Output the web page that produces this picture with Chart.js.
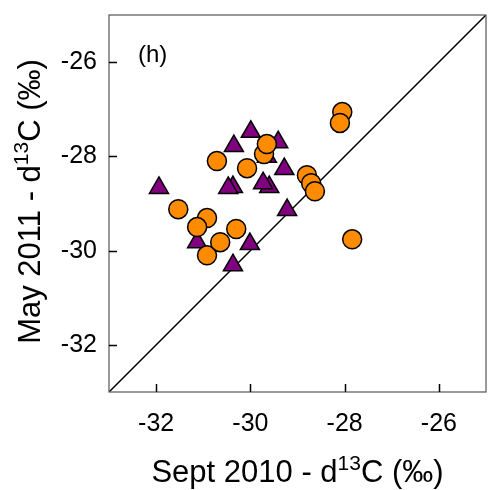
<!DOCTYPE html>
<html>
<head>
<meta charset="utf-8">
<script src="https://cdn.jsdelivr.net/npm/chart.js@4"></script>
<style>
  html, body { margin: 0; padding: 0; background: #fff; overflow: hidden; }
  canvas { display: block; }
</style>
</head>
<body>
<canvas id="chart" width="489" height="490"></canvas>
<script>
// d13C pairs: September 2010 (x) vs May 2011 (y)
const septCircle = [-30.71, -30.07, -29.71, -29.65, -28.05, -28.10, -28.80, -28.71, -28.63, -27.84, -31.53, -30.92, -31.13, -30.30, -30.92, -30.64];
const mayCircle  = [-28.10, -28.25, -27.95, -27.74, -27.06, -27.29, -28.40, -28.57, -28.74, -29.76, -29.12, -29.31, -29.50, -29.54, -30.10, -29.82];

const septTriangle = [-31.94, -30.35, -30.37, -30.47, -29.99, -29.41, -29.65, -29.28, -29.60, -29.73, -31.13, -30.01, -30.37, -29.22];
const mayTriangle  = [-28.67, -27.78, -28.65, -28.67, -27.48, -27.70, -28.01, -28.27, -28.65, -28.57, -29.82, -29.86, -30.31, -29.14];

const axisMin = -33;
const axisMax = -25;
const tickValues = [-32, -30, -28, -26];
const panelLabel = '(h)';

const FONT = '"Liberation Sans", Arial, sans-serif';

const pairs = (xs, ys) => xs.map((x, i) => ({ x: x, y: ys[i] }));

// frame, inward ticks, panel letter and axis titles with superscripts
const decor = {
  id: 'decor',
  afterDraw(chart) {
    const { ctx, chartArea: a, scales } = chart;
    ctx.save();
    ctx.strokeStyle = '#555';
    ctx.lineWidth = 1.2;
    ctx.strokeRect(a.left, a.top, a.right - a.left, a.bottom - a.top);

    ctx.strokeStyle = '#000';
    ctx.lineWidth = 1.5;
    ctx.beginPath();
    tickValues.forEach(v => {
      const px = Math.round(scales.x.getPixelForValue(v)) + 0.5;
      ctx.moveTo(px, a.bottom);
      ctx.lineTo(px, a.bottom - 8);
      const py = Math.round(scales.y.getPixelForValue(v)) + 0.5;
      ctx.moveTo(a.left, py);
      ctx.lineTo(a.left + 8, py);
    });
    ctx.stroke();

    ctx.fillStyle = '#000';
    ctx.font = '24px ' + FONT;
    ctx.textBaseline = 'alphabetic';
    ctx.textAlign = 'left';
    ctx.fillText(panelLabel, a.left + 29, a.top + 47);

    drawTitle(ctx, 'Sept 2010 - d', '13', 'C (\u2030)', (a.left + a.right) / 2, 482, 0);
    drawTitle(ctx, 'May 2011 - d', '13', 'C (\u2030)', 40, (a.top + a.bottom) / 2 - 2, -Math.PI / 2);
    ctx.restore();
  }
};

function drawTitle(ctx, pre, sup, post, cx, cy, rot) {
  const big = '31px ' + FONT;
  const small = '21px ' + FONT;
  ctx.save();
  ctx.translate(cx, cy);
  ctx.rotate(rot);
  ctx.textAlign = 'left';
  ctx.textBaseline = 'alphabetic';
  ctx.font = big;
  const w1 = ctx.measureText(pre).width;
  const w3 = ctx.measureText(post).width;
  ctx.font = small;
  const w2 = ctx.measureText(sup).width;
  let x = -(w1 + w2 + w3) / 2;
  ctx.font = big;
  ctx.fillText(pre, x, 0);
  x += w1;
  ctx.font = small;
  ctx.fillText(sup, x, -12);
  x += w2;
  ctx.font = big;
  ctx.fillText(post, x, 0);
  ctx.restore();
}

const axisCommon = {
  type: 'linear',
  min: axisMin,
  max: axisMax,
  grid: { display: false, drawTicks: false },
  border: { display: false },
  afterBuildTicks: scale => { scale.ticks = tickValues.map(v => ({ value: v })); },
  ticks: {
    color: '#000',
    font: { family: FONT, size: 25 },
    callback: v => String(v)
  }
};

new Chart(document.getElementById('chart'), {
  type: 'scatter',
  data: {
    datasets: [
      {
        label: 'circle',
        data: pairs(septCircle, mayCircle),
        pointStyle: 'circle',
        pointRadius: 9.5,
        backgroundColor: '#ff8c00',
        borderColor: '#000',
        borderWidth: 1.5,
        order: 1
      },
      {
        label: 'triangle',
        data: pairs(septTriangle, mayTriangle),
        pointStyle: 'triangle',
        pointRadius: 11,
        backgroundColor: '#800080',
        borderColor: '#000',
        borderWidth: 1.5,
        order: 2
      },
      {
        label: '1:1',
        type: 'line',
        data: [{ x: axisMin, y: axisMin }, { x: axisMax, y: axisMax }],
        borderColor: '#000',
        borderWidth: 1.5,
        pointRadius: 0,
        order: 3
      }
    ]
  },
  options: {
    responsive: false,
    animation: false,
    layout: { autoPadding: false, padding: { top: 15, right: 3, left: 0, bottom: 0 } },
    plugins: { legend: { display: false }, tooltip: { enabled: false } },
    scales: {
      x: Object.assign({}, axisCommon, {
        position: 'bottom',
        afterFit: s => { s.height = 98; s.paddingLeft = 0; s.paddingRight = 0; },
        ticks: Object.assign({}, axisCommon.ticks, { padding: 17 })
      }),
      y: Object.assign({}, axisCommon, {
        position: 'left',
        afterFit: s => { s.width = 109; s.paddingTop = 0; s.paddingBottom = 0; },
        ticks: Object.assign({}, axisCommon.ticks, { padding: 12 })
      })
    }
  },
  plugins: [decor]
});
</script>
</body>
</html>
